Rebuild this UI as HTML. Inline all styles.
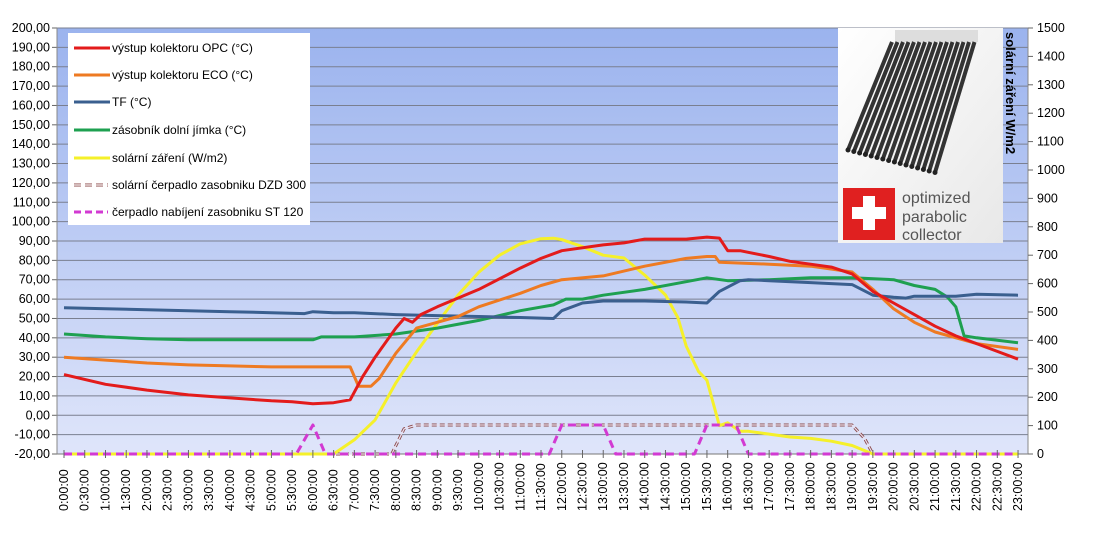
<!DOCTYPE html>
<html><head><meta charset="utf-8">
<style>
body{margin:0;background:#fff;}
svg text{font-family:"Liberation Sans",sans-serif;}
</style></head>
<body>
<svg id="s" width="1095" height="535" xmlns="http://www.w3.org/2000/svg">
<defs>
<linearGradient id="bg" x1="0" y1="0" x2="0" y2="1">
<stop offset="0" stop-color="#9bb3ee"/><stop offset="1" stop-color="#dfe5fa"/>
</linearGradient>
<linearGradient id="img" x1="0" y1="0" x2="1" y2="1">
<stop offset="0" stop-color="#fff"/><stop offset="1" stop-color="#e8e8e8"/>
</linearGradient>
</defs>
<rect x="57" y="28" width="971" height="426" fill="url(#bg)"/>
<g id="grid"></g>
<g id="series"></g>
<rect x="68" y="33" width="242" height="192" fill="#fff"/>
<g font-size="12" fill="#000">
<line x1="74" y1="48" x2="110" y2="48" stroke="#e31b1b" stroke-width="3"/><text x="112" y="52">výstup kolektoru OPC (°C)</text>
<line x1="74" y1="75" x2="110" y2="75" stroke="#ee7a22" stroke-width="3"/><text x="112" y="79">výstup kolektoru ECO (°C)</text>
<line x1="74" y1="102" x2="110" y2="102" stroke="#3a5f8f" stroke-width="3"/><text x="112" y="106">TF (°C)</text>
<line x1="74" y1="130" x2="110" y2="130" stroke="#1ea050" stroke-width="3"/><text x="112" y="134">zásobník dolní jímka  (°C)</text>
<line x1="74" y1="158" x2="110" y2="158" stroke="#f5f02a" stroke-width="3"/><text x="112" y="162">solární záření (W/m2)</text>
<line x1="74" y1="185" x2="108" y2="185" stroke="#8b4a4a" stroke-width="3" stroke-dasharray="7,4"/><line x1="74" y1="185" x2="108" y2="185" stroke="#fff" stroke-width="1.2"/><text x="112" y="189">solární čerpadlo zasobniku DZD 300</text>
<line x1="74" y1="212" x2="108" y2="212" stroke="#d23ad2" stroke-width="3" stroke-dasharray="7,4"/><text x="112" y="216">čerpadlo nabíjení  zasobniku ST 120</text>
</g>
<rect x="838" y="28" width="165" height="215" fill="url(#img)"/>
<g id="tubes"></g>
<rect x="843" y="188" width="52" height="52" fill="#e02020"/>
<rect x="863" y="196" width="12" height="34" fill="#fff"/><rect x="852" y="207" width="34" height="12" fill="#fff"/>
<g font-size="16" fill="#555"><text x="902" y="203">optimized</text><text x="902" y="222">parabolic</text><text x="902" y="240">collector</text></g>
<text transform="translate(1006,32) rotate(90)" font-size="13" font-weight="bold" fill="#000">solární záření W/m2</text>
<g id="axes" font-size="12.5" fill="#000"></g>
</svg>
<script>
const NS="http://www.w3.org/2000/svg";
function el(p,t,a,txt){const e=document.createElementNS(NS,t);for(const k in a)e.setAttribute(k,a[k]);if(txt!==undefined)e.textContent=txt;document.getElementById(p).appendChild(e);return e;}
const X=h=>64+41.48*h, Y=v=>28+(200-v)*1.9364, YR=w=>454-w*0.284;
for(let v=-20;v<=200;v+=10){
 el('grid','line',{x1:57,x2:1028,y1:Y(v),y2:Y(v),stroke:v==-20?'#777':'#7a7f90','stroke-width':1});
 el('axes','line',{x1:52,x2:57,y1:Y(v),y2:Y(v),stroke:'#666'});
 el('axes','text',{x:50,y:Y(v)+4,'text-anchor':'end'},v.toFixed(2).replace('.',','));
}
el('axes','line',{x1:57,x2:57,y1:28,y2:454,stroke:'#888'});
el('axes','line',{x1:1028,x2:1028,y1:28,y2:454,stroke:'#888'});
for(let w=0;w<=1500;w+=100){
 el('axes','line',{x1:1028,x2:1033,y1:YR(w),y2:YR(w),stroke:'#666'});
 el('axes','text',{x:1037,y:YR(w)+4},String(w));
}
for(let i=0;i<=46;i++){
 const h=i/2,x=X(h);
 el('axes','line',{x1:x,x2:x,y1:450,y2:458,stroke:'#666'});
 const lab=Math.floor(h)+':'+(i%2?'30':'00')+':00';
 el('axes','text',{transform:`translate(${x+4},511) rotate(-90)`,'font-size':12.5},lab);
}
function line(pts,col,w,extra,right){
 const d=pts.map(p=>X(p[0]).toFixed(1)+','+(right?YR(p[1]):Y(p[1])).toFixed(1)).join(' ');
 const a={points:d,fill:'none',stroke:col,'stroke-width':w,'stroke-linejoin':'round'};
 Object.assign(a,extra||{});el('series','polyline',a);
}
line([[0,-20],[7.9,-20],[8.2,-7],[8.5,-5],[19,-5],[19.3,-12],[19.5,-20],[23,-20]],'#8b4a4a',3,{'stroke-dasharray':'5,3'});
line([[0,-20],[7.9,-20],[8.2,-7],[8.5,-5],[19,-5],[19.3,-12],[19.5,-20],[23,-20]],'#e8e0f0',1.2);
line([[0,0],[6.5,0],[7,50],[7.5,120],[8,250],[8.5,360],[9,460],[9.5,560],[10,640],[10.5,700],[11,740],[11.5,758],[11.8,760],[12,755],[12.5,730],[13,700],[13.5,690],[14,630],[14.5,560],[14.8,480],[15,380],[15.3,290],[15.5,260],[15.8,100],[16,110],[16.3,80],[16.5,80],[17,70],[17.5,60],[18,55],[18.5,45],[19,30],[19.5,0],[23,0]],'#f5f02a',3,{},true);
line([[0,-20],[5.6,-20],[6,-5],[6.3,-20],[11.7,-20],[12,-5],[13,-5],[13.3,-20],[15.2,-20],[15.5,-5],[16.2,-5],[16.5,-20],[23,-20]],'#d23ad2',3,{'stroke-dasharray':'8,5'});
line([[0,42],[1,40.5],[2,39.5],[3,39],[6,39],[6.2,40.5],[7,40.5],[8,42],[9,45],[10,49],[11,54],[11.8,57],[12.1,60],[12.5,60],[13,62],[14,65],[15,69],[15.5,71],[16,69.5],[17,70],[18,71],[19,71],[20,70],[20.5,67],[21,65],[21.3,61],[21.5,56],[21.7,41],[22,40],[23,37.5]],'#1ea050',3);
line([[0,55.5],[1,55],[2,54.5],[3,54],[4,53.5],[5,53],[5.8,52.5],[6,53.5],[6.5,53],[7,53],[8,52],[9,51.5],[10,51],[11,50.5],[11.8,50],[12,54],[12.5,58],[13,59],[14,59],[15,58.5],[15.5,58],[15.8,64],[16.3,69.5],[16.5,70],[17,69.5],[18,68.5],[19,67.5],[19.5,62],[20,61],[20.3,60.5],[20.5,61.5],[21.5,61.5],[22,62.5],[23,62]],'#3a5f8f',3);
line([[0,30],[1,28.5],[2,27],[3,26],[4,25.5],[5,25],[6.9,25],[7.1,15],[7.4,15],[7.6,19],[8,32],[8.5,45],[9,48],[9.5,51],[10,56],[11,63],[11.5,67],[12,70],[13,72],[14,77],[15,81],[15.5,82],[15.7,82],[15.8,79],[17,78],[18,77],[19,74],[19.5,65],[20,55],[20.5,48],[21,43],[22,37],[23,34]],'#ee7a22',3);
line([[0,21],[1,16],[2,13],[3,10.5],[4,9],[5,7.5],[5.5,7],[6,6],[6.5,6.5],[6.9,8],[7.2,20],[7.5,30],[8,45],[8.2,50],[8.4,48],[8.6,52],[9,56],[10,65],[11,76],[11.5,81],[12,85],[13,88],[13.5,89],[14,91],[15,91],[15.5,92],[15.8,91.5],[16,85],[16.3,85],[17,82],[17.5,79.5],[18,78],[18.5,76.5],[19,73],[19.5,64],[20,58],[20.5,52],[21,46],[21.5,41],[22,37],[22.5,33],[23,29]],'#e31b1b',3);
el('tubes','polygon',{points:'895,30 978,30 978,42 895,42',fill:'#ddd'});
for(let i=0;i<16;i++){
 const tx=892+i*5.5,bx=848+i*5.8;
 el('tubes','line',{x1:tx,y1:42,x2:bx,y2:150+i*1.5,stroke:'#333','stroke-width':4});
 el('tubes','circle',{cx:bx,cy:150+i*1.5,r:2.5,fill:'#222'});
}
</script>
</body></html>
